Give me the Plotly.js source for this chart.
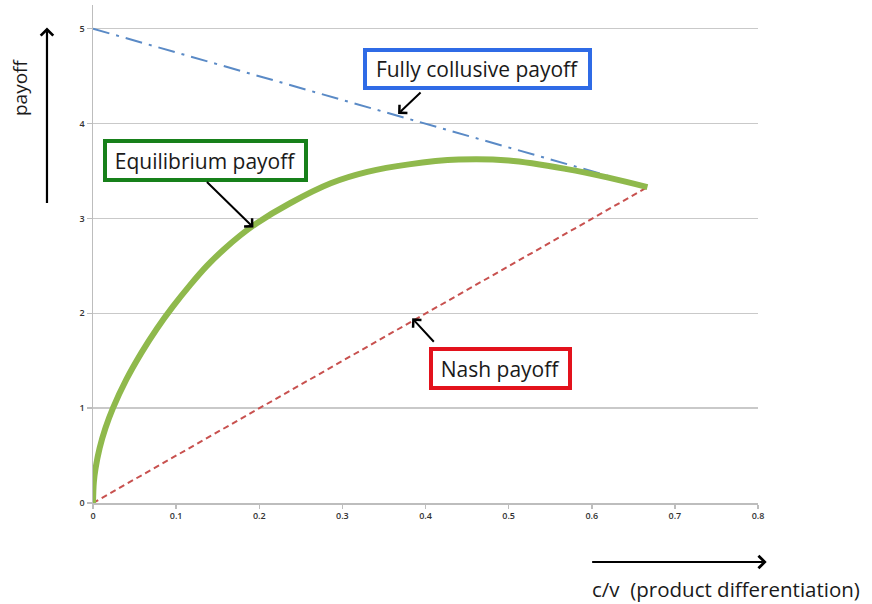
<!DOCTYPE html>
<html>
<head>
<meta charset="utf-8">
<script src="https://cdn.plot.ly/plotly-3.0.1.min.js"></script>
<style>html,body{margin:0;padding:0;background:#fff;}#chart{width:872px;height:604px;}</style>
</head>
<body>
<div id="chart"></div>
<script>
// Equilibrium payoff curve
const eqX = [0, 0.001, 0.003, 0.008, 0.015, 0.024, 0.04, 0.058, 0.077, 0.096, 0.117, 0.137, 0.157, 0.177, 0.197, 0.237, 0.286, 0.33, 0.38, 0.44, 0.5, 0.57, 0.62, 0.667];
const eqY = [0, 0.22, 0.36, 0.58, 0.79, 1.0, 1.3, 1.58, 1.84, 2.07, 2.30, 2.50, 2.67, 2.82, 2.95, 3.16, 3.37, 3.49, 3.57, 3.62, 3.61, 3.52, 3.43, 3.33];
// Fully collusive payoff
const colX = [0, 0.667];
const colY = [5, 3.33];
// Nash payoff
const nashX = [0, 0.667];
const nashY = [0, 3.33];
// Axis ticks
const xTicks = [0, 0.1, 0.2, 0.3, 0.4, 0.5, 0.6, 0.7, 0.8];
const xTickText = ['0', '0.1', '0.2', '0.3', '0.4', '0.5', '0.6', '0.7', '0.8'];
const yTicks = [0, 1, 2, 3, 4, 5];
// Labels
const labels = {
  collusive: 'Fully collusive payoff',
  equilibrium: 'Equilibrium payoff',
  nash: 'Nash payoff',
  xTitle: 'c/v\u00a0 (product differentiation)',
  yTitle: 'payoff'
};
// x positions where the callout arrows touch each curve
const pointAt = { collusive: 0.367, equilibrium: 0.193, nash: 0.384 };

function interp(xs, ys, x) {
  for (let i = 0; i < xs.length - 1; i++) {
    if (x >= xs[i] && x <= xs[i + 1]) {
      const t = (x - xs[i]) / (xs[i + 1] - xs[i]);
      return ys[i] + t * (ys[i + 1] - ys[i]);
    }
  }
  return ys[ys.length - 1];
}

const FONT = 'Open Sans, Lato, sans-serif';

const traces = [
  { x: nashX, y: nashY, mode: 'lines', line: { color: '#c8514f', width: 2, dash: '6px,4px' }, hoverinfo: 'skip' },
  { x: colX, y: colY, mode: 'lines', line: { color: '#5a8ac6', width: 2, dash: '17px,7px,3px,7px' }, hoverinfo: 'skip' },
  { x: eqX, y: eqY, mode: 'lines', line: { color: '#8fb94c', width: 6, shape: 'spline', smoothing: 1 }, hoverinfo: 'skip' }
];

function box(text, x, y, color, w, h) {
  return { x: x, y: y, xref: 'x', yref: 'y', text: text, showarrow: false,
    font: { family: FONT, size: 21, color: '#1a1a1a' },
    bgcolor: '#ffffff', bordercolor: color, borderwidth: 4, borderpad: 2,
    width: w, height: h, xanchor: 'center', yanchor: 'middle' };
}
function arrow(x, y, ax, ay) {
  return { x: x, y: y, xref: 'x', yref: 'y', text: '', showarrow: true,
    arrowhead: 4, arrowsize: 1.1, arrowwidth: 2, arrowcolor: '#000', ax: ax, ay: ay, standoff: 0 };
}

const annotations = [
  box(labels.collusive, 0.4627, 4.575, '#2f6be6', 217, 30),
  box(labels.equilibrium, 0.1354, 3.61, '#17801a', 193, 31),
  box(labels.nash, 0.4904, 1.418, '#e3121c', 131, 31),
  arrow(pointAt.collusive, interp(colX, colY, pointAt.collusive) + 0.02, 24, -23),
  arrow(pointAt.equilibrium, interp(eqX, eqY, pointAt.equilibrium) - 0.02, -48, -47),
  arrow(pointAt.nash, interp(nashX, nashY, pointAt.nash) + 0.03, 23, 25),
  // axis arrows
  { x: -0.0692, y: 0.955, xref: 'paper', yref: 'paper', text: '', showarrow: true,
    arrowhead: 4, arrowsize: 1.1, arrowwidth: 2.2, arrowcolor: '#000', ax: 0, ay: 177, standoff: 0 },
  { x: 1.013, y: -0.1185, xref: 'paper', yref: 'paper', text: '', showarrow: true,
    arrowhead: 4, arrowsize: 1.1, arrowwidth: 2.2, arrowcolor: '#000', ax: -176, ay: 0, standoff: 0 },
  { x: -0.11, y: 0.835, xref: 'paper', yref: 'paper', text: labels.yTitle, showarrow: false, textangle: -90,
    font: { family: FONT, size: 19, color: '#1a1a1a' }, xanchor: 'center', yanchor: 'middle' },
  { x: 0.747, y: -0.173, xref: 'paper', yref: 'paper', text: labels.xTitle, showarrow: false,
    font: { family: FONT, size: 20.5, color: '#1a1a1a' }, xanchor: 'left', yanchor: 'middle' }
];

const layout = {
  width: 872, height: 604,
  margin: { l: 93, r: 114, t: 5, b: 101 },
  paper_bgcolor: '#ffffff', plot_bgcolor: '#ffffff',
  showlegend: false,
  xaxis: {
    range: [0, 0.8], tickvals: xTicks, ticktext: xTickText,
    showgrid: false, zeroline: false, showline: true, linecolor: '#bdbdbd', linewidth: 1.5,
    ticks: 'outside', ticklen: 4, tickcolor: '#bdbdbd', tickwidth: 1.5,
    tickfont: { family: FONT, size: 9, color: '#333', weight: 600 }, fixedrange: true
  },
  yaxis: {
    range: [0, 5.25], tickvals: yTicks,
    showgrid: true, gridcolor: '#c9c9c9', gridwidth: 1.5, zeroline: false,
    showline: true, linecolor: '#bdbdbd', linewidth: 1.5,
    ticks: 'outside', ticklen: 5, tickcolor: '#bdbdbd', tickwidth: 1.5,
    tickfont: { family: FONT, size: 9, color: '#333', weight: 600 }, fixedrange: true
  },
  annotations: annotations
};

Plotly.newPlot('chart', traces, layout, { staticPlot: true });
</script>
</body>
</html>
